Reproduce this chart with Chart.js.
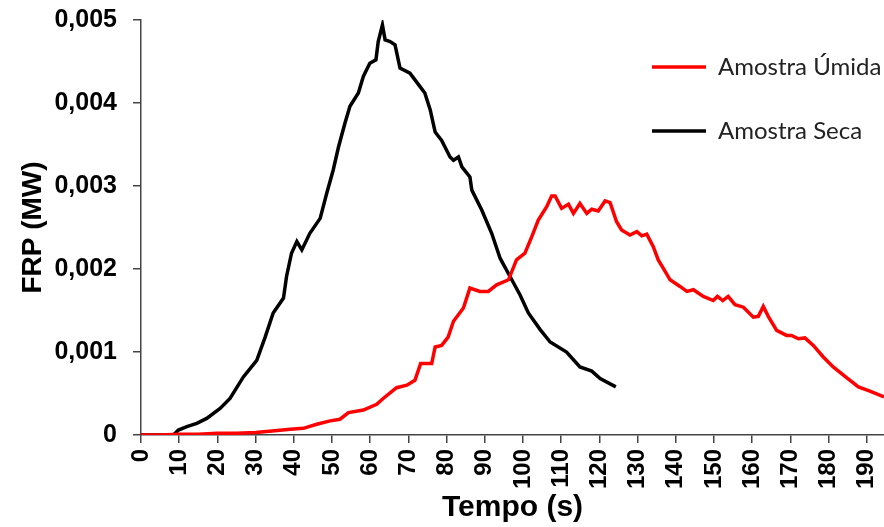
<!DOCTYPE html>
<html><head><meta charset="utf-8">
<script src="https://cdn.jsdelivr.net/npm/chart.js@4"></script>
<style>html,body{margin:0;padding:0;background:#fff}</style>
</head><body>
<canvas id="c" width="884" height="527"></canvas>
<script>
const seriesNames = ['Amostra Úmida', 'Amostra Seca'];
const seriesColors = ['#ff0000', '#000000'];

const timeUmida = [0,5,10,15,20,25,30,35,39,42.5,46,49.5,52.1,54.3,58.2,61.7,63.4,66.9,69.6,71.7,73.2,76.1,77,78.7,80.4,81.8,84.4,86.1,88.7,90.9,93.1,96.2,98.3,100.5,102.3,104,106.2,107.5,108.4,110.1,111.9,113.2,114.9,116.7,118,119.7,121.5,122.8,124.5,125.8,128,129.8,131.1,132.4,134.1,135.4,136.7,138.5,141.1,142.9,144.6,147.2,149.8,150.9,152.3,153.7,155.5,157.7,160.3,161.6,162.9,164.2,166.4,169,170.3,172.1,173.8,176,178.6,181.2,184.7,187.8,190.8,194.5];
const frpUmida = [0,0,0.00001,0.00001,0.00002,0.00002,0.00003,0.00005,0.00007,0.00008,0.00013,0.00017,0.00019,0.00027,0.0003,0.00037,0.00044,0.00057,0.0006,0.00066,0.00086,0.00086,0.00106,0.00108,0.00118,0.00137,0.00153,0.00177,0.00173,0.00173,0.00181,0.00187,0.00211,0.00219,0.00239,0.00259,0.00275,0.00288,0.00288,0.00273,0.00278,0.00267,0.00279,0.00267,0.00272,0.0027,0.00282,0.0028,0.00257,0.00247,0.00241,0.00245,0.0024,0.00242,0.00227,0.00211,0.00201,0.00187,0.00179,0.00173,0.00175,0.00167,0.00162,0.00167,0.00162,0.00167,0.00157,0.00154,0.00142,0.00143,0.00155,0.00143,0.00126,0.0012,0.0012,0.00116,0.00117,0.00108,0.00094,0.00082,0.00069,0.00058,0.00053,0.00046];

const timeSeca = [0,8.5,9.8,12,14.6,17.2,20.7,23.3,26.8,30.3,32.5,34.6,37.3,38.1,39.4,40.8,42.1,44.2,46.9,48.6,50.3,51.7,53.4,54.7,56.9,58.2,59.9,61.5,62.1,63.2,63.9,65.2,66.5,67.8,70.4,73,74.3,75.7,77,78.7,80.9,81.8,83.1,84,86.1,86.6,89.2,91.8,94,96.6,99.2,101.4,104.5,107.1,111.4,114.9,118,120.2,124.3];
const frpSeca = [0,0,0.00006,0.0001,0.00014,0.0002,0.00032,0.00044,0.0007,0.0009,0.00118,0.00147,0.00165,0.00191,0.00219,0.00233,0.00223,0.00243,0.00261,0.00291,0.00319,0.00347,0.00376,0.00396,0.00412,0.00432,0.00448,0.00452,0.00474,0.00494,0.00476,0.00474,0.0047,0.00442,0.00436,0.0042,0.00412,0.00392,0.00365,0.00355,0.00335,0.00331,0.00335,0.00323,0.00311,0.00295,0.00271,0.00243,0.00213,0.00191,0.00169,0.00147,0.00127,0.00112,0.001,0.00082,0.00077,0.00068,0.00058];

const xTitle = 'Tempo (s)';
const yTitle = 'FRP (MW)';
const xMin = 0, xMax = 194.5, xStep = 10;
const yMin = 0, yMax = 0.005, yStep = 0.001;

const toPoints = (xs, ys) => xs.map((x, i) => ({x: x, y: ys[i]}));

const legendPlacer = {
  id: 'legendPlacer',
  afterLayout(chart) {
    const lg = chart.legend;
    if (!lg) return;
    const pad = lg.options.labels.padding;
    const fs = lg.options.labels.font.size;
    lg.left = 652 - pad;
    lg.top = 67 - fs / 2 - pad;
    lg.right = 884;
    lg.bottom = 400;
  }
};

new Chart(document.getElementById('c'), {
  type: 'line',
  data: {
    datasets: [
      {label: seriesNames[0], data: toPoints(timeUmida, frpUmida), borderColor: seriesColors[0], backgroundColor: seriesColors[0], borderWidth: 3.5, pointRadius: 0, tension: 0, pointStyle: 'line'},
      {label: seriesNames[1], data: toPoints(timeSeca, frpSeca), borderColor: seriesColors[1], backgroundColor: seriesColors[1], borderWidth: 3.5, pointRadius: 0, tension: 0, pointStyle: 'line'}
    ]
  },
  options: {
    responsive: false,
    animation: false,
    layout: {padding: {top: 20, right: 0, bottom: 0, left: 0}},
    plugins: {
      legend: {
        position: 'chartArea',
        align: 'start',
        labels: {
          usePointStyle: true,
          pointStyleWidth: 54,
          padding: 40,
          color: '#222',
          font: {family: 'Lato', size: 24}
        }
      },
      tooltip: {enabled: false}
    },
    scales: {
      x: {
        type: 'linear',
        min: xMin, max: xMax,
        afterFit(scale) { scale.height = 92; scale.paddingLeft = 0; scale.paddingRight = 0; },
        border: {color: '#444', width: 1.5},
        grid: {drawOnChartArea: false, drawTicks: true, tickLength: 8, color: '#444', lineWidth: 1.5},
        ticks: {
          stepSize: xStep, includeBounds: false, autoSkip: false,
          maxRotation: 90, minRotation: 90, padding: 6,
          color: '#000', font: {family: 'Liberation Sans', weight: 'bold', size: 24}
        },
        title: {display: true, text: xTitle, color: '#000', padding: {top: 0, bottom: 1},
          font: {family: 'Liberation Sans', weight: 'bold', size: 30, lineHeight: 1.2}}
      },
      y: {
        min: yMin, max: yMax,
        afterFit(scale) { scale.width = 141; scale.paddingTop = 0; scale.paddingBottom = 0; },
        border: {color: '#444', width: 1.5},
        grid: {drawOnChartArea: false, drawTicks: true, tickLength: 8, color: '#444', lineWidth: 1.5},
        ticks: {
          stepSize: yStep, padding: 16, color: '#000',
          font: {family: 'Liberation Sans', weight: 'bold', size: 25},
          callback: (v) => v === 0 ? '0' : Number(v).toFixed(3).replace('.', ',')
        },
        title: {display: true, text: yTitle, color: '#000', padding: {top: 16, bottom: 0},
          font: {family: 'Liberation Sans', weight: 'bold', size: 28, lineHeight: 1.2}}
      }
    }
  },
  plugins: [legendPlacer]
});
</script>
</body></html>
